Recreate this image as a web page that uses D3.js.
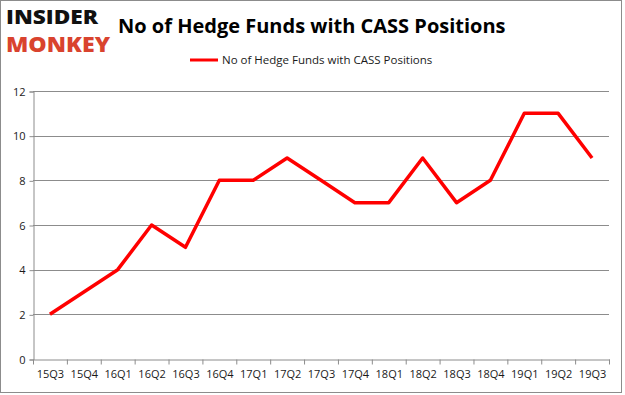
<!DOCTYPE html>
<html>
<head>
<meta charset="utf-8">
<script src="https://cdn.jsdelivr.net/npm/d3@7"></script>
<style>
  body { margin: 0; background: #fff; }
  text { font-family: "Open Sans", "DejaVu Sans", sans-serif; }
</style>
</head>
<body>
<div id="container"></div>
<script>
const quarters = ["15Q3", "15Q4", "16Q1", "16Q2", "16Q3", "16Q4", "17Q1", "17Q2", "17Q3",
  "17Q4", "18Q1", "18Q2", "18Q3", "18Q4", "19Q1", "19Q2", "19Q3"];
const funds = [2, 3, 4, 6, 5, 8, 8, 9, 8, 7, 7, 9, 7, 8, 11, 11, 9];
const yTicks = [0, 2, 4, 6, 8, 10, 12];
const seriesName = "No of Hedge Funds with CASS Positions";

const width = 625, height = 395;
const plot = { left: 33, right: 609, top: 91, bottom: 359 };

const svg = d3.select("#container").append("svg")
  .attr("width", width).attr("height", height);

// outer frame
svg.append("rect")
  .attr("x", 0.5).attr("y", 0.5)
  .attr("width", 621).attr("height", 392)
  .attr("fill", "#fff").attr("stroke", "#8c8c8c");

// logo
svg.append("text").attr("x", 6).attr("y", 24)
  .attr("font-size", 20).attr("font-weight", 900)
  .attr("font-family", "'DejaVu Sans', sans-serif")
  .attr("textLength", 92).attr("lengthAdjust", "spacingAndGlyphs")
  .attr("fill", "#111").text("INSIDER");
svg.append("text").attr("x", 6).attr("y", 52)
  .attr("font-size", 21).attr("font-weight", 900)
  .attr("font-family", "'DejaVu Sans', sans-serif")
  .attr("textLength", 104).attr("lengthAdjust", "spacingAndGlyphs")
  .attr("fill", "#d9432e").text("MONKEY");

// title
svg.append("text").attr("x", 118).attr("y", 33)
  .attr("font-size", 20).attr("font-weight", 700)
  .attr("fill", "#000").text(seriesName);

// legend
svg.append("line").attr("x1", 190).attr("x2", 218).attr("y1", 60).attr("y2", 60)
  .attr("stroke", "#ff0000").attr("stroke-width", 3);
svg.append("text").attr("x", 222).attr("y", 64)
  .attr("font-size", 11.5).attr("fill", "#1a1a1a").text(seriesName);

const x = d3.scaleBand().domain(quarters).range([plot.left, plot.right]);
const y = d3.scaleLinear().domain([0, 12]).range([plot.bottom, plot.top]);

// gridlines
svg.append("g").selectAll("line").data(yTicks.filter(d => d > 0)).enter()
  .append("line")
  .attr("x1", plot.left).attr("x2", plot.right)
  .attr("y1", d => Math.round(y(d)) + 0.5).attr("y2", d => Math.round(y(d)) + 0.5)
  .attr("stroke", "#8c8c8c");

// y axis
const yAxis = svg.append("g")
  .attr("transform", `translate(${plot.left + 0.5},0.5)`)
  .call(d3.axisLeft(y).tickValues(yTicks).tickSize(4).tickPadding(4));
yAxis.select(".domain").attr("stroke", "#8c8c8c");
yAxis.selectAll(".tick line").attr("stroke", "#8c8c8c");
yAxis.selectAll("text").attr("font-size", 11).attr("fill", "#1a1a1a")
  .attr("font-family", "'Open Sans', sans-serif");

// x axis
const xAxis = svg.append("g")
  .attr("transform", `translate(0.5,${plot.bottom + 0.5})`)
  .call(d3.axisBottom(x).tickSize(0).tickPadding(11));
xAxis.select(".domain").attr("stroke", "#8c8c8c");
xAxis.selectAll("text").attr("font-size", 11).attr("fill", "#1a1a1a");
xAxis.selectAll(".boundary").data(d3.range(quarters.length + 1)).enter()
  .append("line").attr("class", "boundary")
  .attr("x1", i => plot.left + i * x.step()).attr("x2", i => plot.left + i * x.step())
  .attr("y1", 0).attr("y2", 5)
  .attr("stroke", "#8c8c8c");

// series line
const line = d3.line()
  .x((d, i) => x(quarters[i]) + x.bandwidth() / 2)
  .y(d => y(d));
svg.append("path").datum(funds)
  .attr("d", line)
  .attr("fill", "none")
  .attr("stroke", "#ff0000")
  .attr("stroke-width", 3.5)
  .attr("stroke-linejoin", "round");
</script>
</body>
</html>
